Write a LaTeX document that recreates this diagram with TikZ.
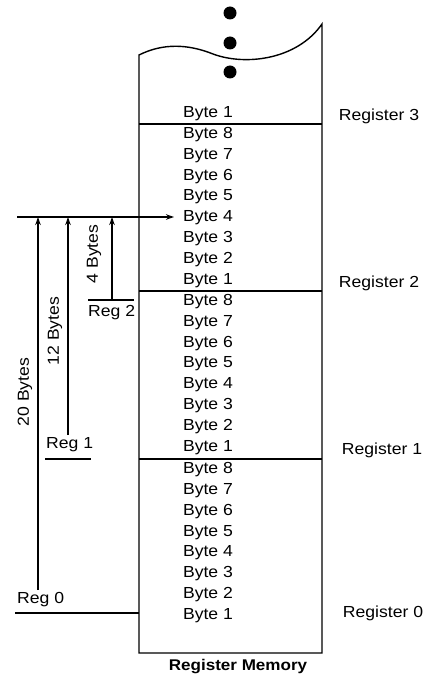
\documentclass[tikz,border=0pt]{standalone}
\usepackage{fontspec}
\setmainfont[FakeStretch=1.1]{Liberation Sans}
\usetikzlibrary{arrows.meta}
\begin{document}
\begin{tikzpicture}[x=1pt,y=-1pt,
  txt/.style={font=\fontsize{16}{18}\selectfont, inner sep=0pt},
  reglabel/.style={txt},
  wall/.style={line width=1.4pt},
  sep/.style={line width=1.5pt},
  arr/.style={line width=1.3pt,-{Stealth[length=8pt,width=5.5pt]}},
  tick/.style={line width=1.4pt}]
\useasboundingbox (0,0) rectangle (432,679);
% box
\draw[wall] (139,55) .. controls (163,43) and (188,44) .. (213,54)
  .. controls (245,66) and (297,60) .. (322,24) -- (322,653) -- (139,653) -- cycle;
% dots
\foreach \yy/\nm in {13/d1,43/d2,72/d3}
  \fill (230,\yy) circle (6.5pt) coordinate (\nm);
% separators
\foreach \yy/\nm in {124/s3,291/s2,459/s1}{
  \coordinate (\nm L) at (139,\yy); \coordinate (\nm R) at (322,\yy);
  \draw[sep] (\nm L) -- (\nm R);}
% byte labels
\node[txt] (r3b1) at (208,113.5) {Byte 1};
\foreach \top/\r in {124/2,291/1,459/0}{
  \foreach \k in {1,...,8}{
    \node[txt] (r\r b\k) at (208,{\top+(8-\k+0.5)*20.9}) {Byte \k};
  }}
% register labels
\node[reglabel] (reg3) at (379,116) {Register 3};
\node[reglabel] (reg2) at (379,283) {Register 2};
\node[reglabel] (reg1) at (382,450) {Register 1};
\node[reglabel] (reg0) at (383,613) {Register 0};
\node[txt,font=\fontsize{15.5}{18}\selectfont\bfseries] (title) at (238,667) {Register Memory};
% pointer arrow
\coordinate (pS) at (17,217);
\coordinate (pE) at (174,217);
\draw[arr] (pS) -- (pE);
% Reg labels on left
\node[txt,anchor=west] (rg2) at (88,313) {Reg 2};
\node[txt,anchor=west] (rg1) at (46,445) {Reg 1};
\node[txt,anchor=west] (rg0) at (17,600) {Reg 0};
\coordinate (t2a) at (88,300); \coordinate (t2b) at (134,300);
\coordinate (t1a) at (45,459); \coordinate (t1b) at (91,459);
\coordinate (t0a) at (15,613); \coordinate (t0b) at (139,613);
\draw[tick] (t2a) -- (t2b);
\draw[tick] (t1a) -- (t1b);
\draw[tick] (t0a) -- (t0b);
% offset arrows
\coordinate (a4s) at (112,300); \coordinate (a4e) at (112,217);
\coordinate (a12s) at (68,435); \coordinate (a12e) at (68,217);
\coordinate (a20s) at (38,590); \coordinate (a20e) at (38,217);
\draw[arr] (a4s) -- (a4e);
\draw[arr] (a12s) -- (a12e);
\draw[arr] (a20s) -- (a20e);
\node[txt,rotate=90] (l4) at (94,254) {4 Bytes};
\node[txt,rotate=90] (l12) at (55,331) {12 Bytes};
\node[txt,rotate=90] (l20) at (25,392) {20 Bytes};
\end{tikzpicture}
\end{document}
